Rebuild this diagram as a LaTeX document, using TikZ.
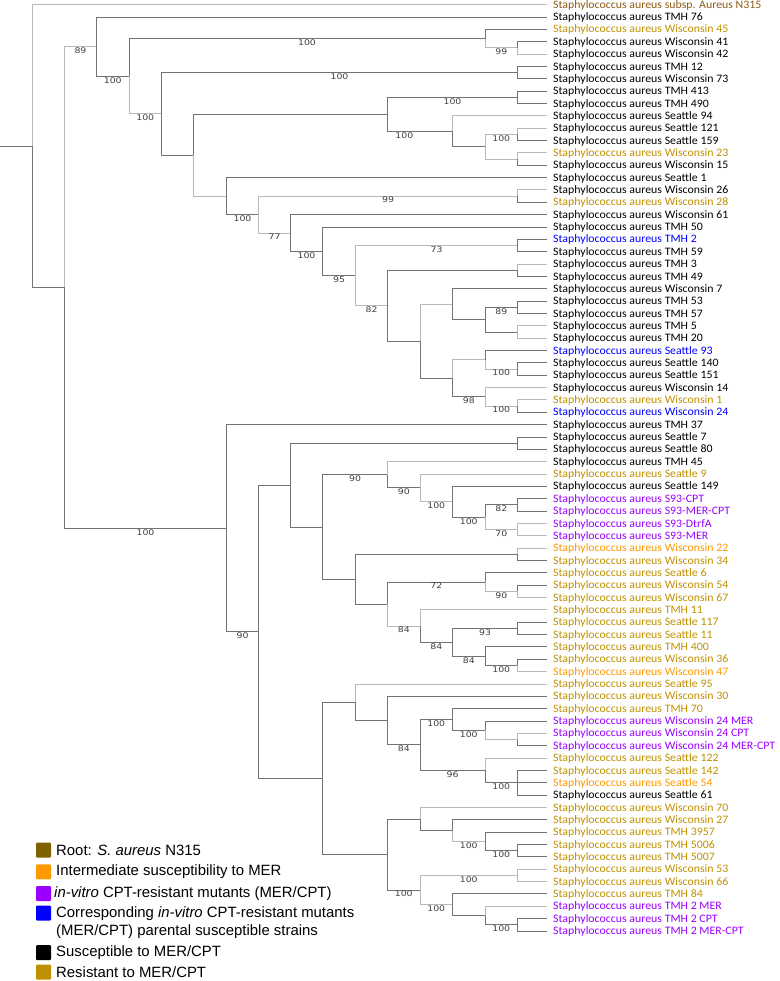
\documentclass[tikz,border=0pt]{standalone}
\usepackage{fontspec}
\usepackage{tikz}
\usetikzlibrary{positioning}
\newfontfamily\leaffont{Carlito}
\newfontfamily\legfont{Liberation Sans}
\newfontfamily\bsfont{DejaVu Sans}
\definecolor{rootbrown}{RGB}{128,96,0}
\definecolor{roottext}{RGB}{140,90,20}
\definecolor{midorange}{RGB}{255,153,0}
\definecolor{mutpurple}{RGB}{153,0,255}
\definecolor{parblue}{RGB}{0,0,255}
\definecolor{resgold}{RGB}{191,144,0}
\newcommand{\sa}[1]{\scalebox{1.04}[1]{Staphylococcus aureus #1}}
\newcommand{\bsv}[1]{\scalebox{1.2}[1]{#1}}

\begin{document}
\begin{tikzpicture}[x=1pt,y=-1pt,
    branch/.style={draw=black!55, line width=0.9pt},
    lbranch/.style={draw=black!28, line width=0.9pt},
    leaf/.style={anchor=west, inner xsep=6pt, inner ysep=0pt, text height=9.5pt, text depth=2.3pt, font=\leaffont\fontsize{11.4}{12}\selectfont},
    boot/.style={font=\bsfont\fontsize{7.8}{8}\selectfont, text=black!75, inner sep=0pt, below=0.6pt},
    legsq/.style={minimum size=15pt, inner sep=0pt, outer sep=0pt, rounded corners=1pt},
    legtxt/.style={font=\legfont\fontsize{14.9}{17.7}\selectfont, inner sep=0pt, align=left}]
    \useasboundingbox (0,0) rectangle (779,981);

    % leaves
    \node[leaf, text=roottext] (n315) at (547,4.7) {\sa{subsp. Aureus N315}};
    \node[leaf] (tmh76) at (547,17.05) {\sa{TMH 76}};
    \node[leaf, text=resgold] (wis45) at (547,29.4) {\sa{Wisconsin 45}};
    \node[leaf] (wis41) at (547,41.75) {\sa{Wisconsin 41}};
    \node[leaf] (wis42) at (547,54.1) {\sa{Wisconsin 42}};
    \node[leaf] (tmh12) at (547,66.45) {\sa{TMH 12}};
    \node[leaf] (wis73) at (547,78.8) {\sa{Wisconsin 73}};
    \node[leaf] (tmh413) at (547,91.15) {\sa{TMH 413}};
    \node[leaf] (tmh490) at (547,103.5) {\sa{TMH 490}};
    \node[leaf] (sea94) at (547,115.85) {\sa{Seattle 94}};
    \node[leaf] (sea121) at (547,128.2) {\sa{Seattle 121}};
    \node[leaf] (sea159) at (547,140.55) {\sa{Seattle 159}};
    \node[leaf, text=resgold] (wis23) at (547,152.9) {\sa{Wisconsin 23}};
    \node[leaf] (wis15) at (547,165.25) {\sa{Wisconsin 15}};
    \node[leaf] (sea1) at (547,177.6) {\sa{Seattle 1}};
    \node[leaf] (wis26) at (547,189.95) {\sa{Wisconsin 26}};
    \node[leaf, text=resgold] (wis28) at (547,202.3) {\sa{Wisconsin 28}};
    \node[leaf] (wis61) at (547,214.65) {\sa{Wisconsin 61}};
    \node[leaf] (tmh50) at (547,227) {\sa{TMH 50}};
    \node[leaf, text=parblue] (tmh2) at (547,239.35) {\sa{TMH 2}};
    \node[leaf] (tmh59) at (547,251.7) {\sa{TMH 59}};
    \node[leaf] (tmh3) at (547,264.05) {\sa{TMH 3}};
    \node[leaf] (tmh49) at (547,276.4) {\sa{TMH 49}};
    \node[leaf] (wis7) at (547,288.75) {\sa{Wisconsin 7}};
    \node[leaf] (tmh53) at (547,301.1) {\sa{TMH 53}};
    \node[leaf] (tmh57) at (547,313.45) {\sa{TMH 57}};
    \node[leaf] (tmh5) at (547,325.8) {\sa{TMH 5}};
    \node[leaf] (tmh20) at (547,338.15) {\sa{TMH 20}};
    \node[leaf, text=parblue] (sea93) at (547,350.5) {\sa{Seattle 93}};
    \node[leaf] (sea140) at (547,362.85) {\sa{Seattle 140}};
    \node[leaf] (sea151) at (547,375.2) {\sa{Seattle 151}};
    \node[leaf] (wis14) at (547,387.55) {\sa{Wisconsin 14}};
    \node[leaf, text=resgold] (wis1) at (547,399.9) {\sa{Wisconsin 1}};
    \node[leaf, text=parblue] (wis24) at (547,412.25) {\sa{Wisconsin 24}};
    \node[leaf] (tmh37) at (547,424.6) {\sa{TMH 37}};
    \node[leaf] (sea7) at (547,436.95) {\sa{Seattle 7}};
    \node[leaf] (sea80) at (547,449.3) {\sa{Seattle 80}};
    \node[leaf] (tmh45) at (547,461.65) {\sa{TMH 45}};
    \node[leaf, text=resgold] (sea9) at (547,474) {\sa{Seattle 9}};
    \node[leaf] (sea149) at (547,486.35) {\sa{Seattle 149}};
    \node[leaf, text=mutpurple] (s93cpt) at (547,498.7) {\sa{S93-CPT}};
    \node[leaf, text=mutpurple] (s93mercpt) at (547,511.05) {\sa{S93-MER-CPT}};
    \node[leaf, text=mutpurple] (s93dtrfa) at (547,523.4) {\sa{S93-DtrfA}};
    \node[leaf, text=mutpurple] (s93mer) at (547,535.75) {\sa{S93-MER}};
    \node[leaf, text=midorange] (wis22) at (547,548.1) {\sa{Wisconsin 22}};
    \node[leaf, text=resgold] (wis34) at (547,560.45) {\sa{Wisconsin 34}};
    \node[leaf, text=resgold] (sea6) at (547,572.8) {\sa{Seattle 6}};
    \node[leaf, text=resgold] (wis54) at (547,585.15) {\sa{Wisconsin 54}};
    \node[leaf, text=resgold] (wis67) at (547,597.5) {\sa{Wisconsin 67}};
    \node[leaf, text=resgold] (tmh11) at (547,609.85) {\sa{TMH 11}};
    \node[leaf, text=resgold] (sea117) at (547,622.2) {\sa{Seattle 117}};
    \node[leaf, text=resgold] (sea11) at (547,634.55) {\sa{Seattle 11}};
    \node[leaf, text=resgold] (tmh400) at (547,646.9) {\sa{TMH 400}};
    \node[leaf, text=resgold] (wis36) at (547,659.25) {\sa{Wisconsin 36}};
    \node[leaf, text=midorange] (wis47) at (547,671.6) {\sa{Wisconsin 47}};
    \node[leaf, text=resgold] (sea95) at (547,683.95) {\sa{Seattle 95}};
    \node[leaf, text=resgold] (wis30) at (547,696.3) {\sa{Wisconsin 30}};
    \node[leaf, text=resgold] (tmh70) at (547,708.65) {\sa{TMH 70}};
    \node[leaf, text=mutpurple] (wis24mer) at (547,721) {\sa{Wisconsin 24 MER}};
    \node[leaf, text=mutpurple] (wis24cpt) at (547,733.35) {\sa{Wisconsin 24 CPT}};
    \node[leaf, text=mutpurple] (wis24mercpt) at (547,745.7) {\sa{Wisconsin 24 MER-CPT}};
    \node[leaf, text=resgold] (sea122) at (547,758.05) {\sa{Seattle 122}};
    \node[leaf, text=resgold] (sea142) at (547,770.4) {\sa{Seattle 142}};
    \node[leaf, text=midorange] (sea54) at (547,782.75) {\sa{Seattle 54}};
    \node[leaf] (sea61) at (547,795.1) {\sa{Seattle 61}};
    \node[leaf, text=resgold] (wis70) at (547,807.45) {\sa{Wisconsin 70}};
    \node[leaf, text=resgold] (wis27) at (547,819.8) {\sa{Wisconsin 27}};
    \node[leaf, text=resgold] (tmh3957) at (547,832.15) {\sa{TMH 3957}};
    \node[leaf, text=resgold] (tmh5006) at (547,844.5) {\sa{TMH 5006}};
    \node[leaf, text=resgold] (tmh5007) at (547,856.85) {\sa{TMH 5007}};
    \node[leaf, text=resgold] (wis53) at (547,869.2) {\sa{Wisconsin 53}};
    \node[leaf, text=resgold] (wis66) at (547,881.55) {\sa{Wisconsin 66}};
    \node[leaf, text=resgold] (tmh84) at (547,893.9) {\sa{TMH 84}};
    \node[leaf, text=mutpurple] (tmh2mer) at (547,906.25) {\sa{TMH 2 MER}};
    \node[leaf, text=mutpurple] (tmh2cpt) at (547,918.6) {\sa{TMH 2 CPT}};
    \node[leaf, text=mutpurple] (tmh2mercpt) at (547,930.95) {\sa{TMH 2 MER-CPT}};

    % inner nodes, upper clade
    \coordinate (stub) at (0,146.06);
    \coordinate (R0) at (32,146.06);
    \coordinate (A) at (64.5,287.42);
    \coordinate (B) at (96.5,46.67);
    \coordinate (D) at (129,76.28);
    \coordinate (F) at (485,38.66);
    \coordinate (G) at (517.5,47.93);
    \coordinate (E) at (161.5,113.91);
    \coordinate (H) at (517.5,72.63);
    \coordinate (I) at (193.5,155.19);
    \coordinate (J) at (387.5,114.31);
    \coordinate (L) at (517.5,97.33);
    \coordinate (M) at (452.5,131.29);
    \coordinate (N) at (485,146.73);
    \coordinate (O) at (517.5,134.38);
    \coordinate (P) at (517.5,159.08);
    \coordinate (K) at (226.5,196.08);
    \coordinate (Q) at (258.5,214.56);
    \coordinate (R) at (517.5,196.13);
    \coordinate (S) at (290.5,232.98);
    \coordinate (T) at (322.5,251.32);
    \coordinate (U) at (355.5,275.63);
    \coordinate (V) at (517.5,245.53);
    \coordinate (W) at (387.5,305.73);
    \coordinate (X) at (517.5,270.23);
    \coordinate (Y) at (420,341.24);
    \coordinate (Z) at (452.5,304.19);
    \coordinate (AB) at (485,319.63);
    \coordinate (AC) at (517.5,307.28);
    \coordinate (AD) at (517.5,331.98);
    \coordinate (AA) at (452.5,378.29);
    \coordinate (AE) at (485,359.76);
    \coordinate (AG) at (517.5,369.03);
    \coordinate (AF) at (485,396.81);
    \coordinate (AH) at (517.5,406.08);
    % inner nodes, lower clade
    \coordinate (C) at (226.5,528.17);
    \coordinate (AI) at (258.5,631.73);
    \coordinate (AJ) at (290.5,485.05);
    \coordinate (AL) at (517.5,443.13);
    \coordinate (AM) at (322.5,526.97);
    \coordinate (AN) at (387.5,474.78);
    \coordinate (AP) at (420,487.9);
    \coordinate (AQ) at (452.5,501.79);
    \coordinate (AR) at (485,517.23);
    \coordinate (AS) at (517.5,504.88);
    \coordinate (AT) at (517.5,529.58);
    \coordinate (AO) at (355.5,579.17);
    \coordinate (AU) at (517.5,554.28);
    \coordinate (AV) at (387.5,604.06);
    \coordinate (AW) at (485,582.06);
    \coordinate (BC) at (517.5,591.33);
    \coordinate (AX) at (420,626.06);
    \coordinate (AY) at (452.5,642.27);
    \coordinate (AZ) at (517.5,628.38);
    \coordinate (BA) at (485,656.16);
    \coordinate (BB) at (517.5,665.43);
    \coordinate (AK) at (322.5,778.41);
    \coordinate (BD) at (355.5,702.28);
    \coordinate (BF) at (387.5,720.61);
    \coordinate (BG) at (420,744.93);
    \coordinate (BH) at (452.5,719.46);
    \coordinate (BJ) at (485,730.26);
    \coordinate (BK) at (517.5,739.53);
    \coordinate (BI) at (485,770.4);
    \coordinate (BL) at (517.5,782.75);
    \coordinate (BE) at (387.5,854.54);
    \coordinate (BM) at (420,819.03);
    \coordinate (BP) at (452.5,830.61);
    \coordinate (BQ) at (485,841.41);
    \coordinate (BO) at (517.5,850.68);
    \coordinate (BN) at (420,890.04);
    \coordinate (BR) at (517.5,875.38);
    \coordinate (BS) at (452.5,904.71);
    \coordinate (BT) at (485,915.51);
    \coordinate (BU) at (517.5,924.78);

    % branches, upper clade
    \draw[branch] (stub) -- (R0);
    \draw[lbranch] (R0) |- (n315);
    \draw[branch] (R0) |- (A);
    \draw[lbranch] (A) |- (B) node[boot, pos=.75] {\bsv{89}};
    \draw[branch] (A) |- (C) node[boot, pos=.75] {\bsv{100}};
    \draw[branch] (B) |- (tmh76);
    \draw[branch] (B) |- (D) node[boot, pos=.75] {\bsv{100}};
    \draw[branch] (D) |- (F) node[boot, pos=.75] {\bsv{100}};
    \draw[lbranch] (D) |- (E) node[boot, pos=.75] {\bsv{100}};
    \draw[branch] (F) |- (wis45);
    \draw[lbranch] (F) |- (G) node[boot, pos=.75] {\bsv{99}};
    \draw[branch] (G) |- (wis41);
    \draw[lbranch] (G) |- (wis42);
    \draw[branch] (E) |- (H) node[boot, pos=.75] {\bsv{100}};
    \draw[branch] (E) |- (I);
    \draw[branch] (H) |- (tmh12) (H) |- (wis73);
    \draw[branch] (I) |- (J);
    \draw[lbranch] (I) |- (K);
    \draw[branch] (J) |- (L) node[boot, pos=.75] {\bsv{100}};
    \draw[branch] (J) |- (M) node[boot, pos=.63] {\bsv{100}};
    \draw[branch] (L) |- (tmh413) (L) |- (tmh490);
    \draw[lbranch] (M) |- (sea94);
    \draw[branch] (M) |- (N);
    \draw[lbranch] (N) |- (O) node[boot, pos=.75] {\bsv{100}};
    \draw[lbranch] (N) |- (P);
    \draw[lbranch] (O) |- (sea121);
    \draw[branch] (O) |- (sea159);
    \draw[lbranch] (P) |- (wis23);
    \draw[branch] (P) |- (wis15);
    \draw[branch] (K) |- (sea1);
    \draw[branch] (K) |- (Q) node[boot, pos=.75] {\bsv{100}};
    \draw[lbranch] (Q) |- (R) node[boot, pos=.75] {\bsv{99}};
    \draw[lbranch] (Q) |- (S) node[boot, pos=.75] {\bsv{77}};
    \draw[lbranch] (R) |- (wis26);
    \draw[branch] (R) |- (wis28);
    \draw[branch] (S) |- (wis61);
    \draw[branch] (S) |- (T) node[boot, pos=.75] {\bsv{100}};
    \draw[branch] (T) |- (tmh50);
    \draw[branch] (T) |- (U) node[boot, pos=.75] {\bsv{95}};
    \draw[lbranch] (U) |- (V) node[boot, pos=.75] {\bsv{73}};
    \draw[lbranch] (U) |- (W) node[boot, pos=.75] {\bsv{82}};
    \draw[branch] (V) |- (tmh2) (V) |- (tmh59);
    \draw[branch] (W) |- (X);
    \draw[branch] (W) |- (Y);
    \draw[lbranch] (X) |- (tmh3);
    \draw[branch] (X) |- (tmh49);
    \draw[lbranch] (Y) |- (Z);
    \draw[branch] (Y) |- (AA);
    \draw[branch] (Z) |- (wis7);
    \draw[branch] (Z) |- (AB);
    \draw[branch] (AB) |- (AC) node[boot, pos=.75] {\bsv{89}};
    \draw[branch] (AB) |- (AD);
    \draw[branch] (AC) |- (tmh53) (AC) |- (tmh57);
    \draw[lbranch] (AD) |- (tmh5) (AD) |- (tmh20);
    \draw[lbranch] (AA) |- (AE);
    \draw[branch] (AA) |- (AF) node[boot, pos=.75] {\bsv{98}};
    \draw[branch] (AE) |- (sea93);
    \draw[lbranch] (AE) |- (AG) node[boot, pos=.75] {\bsv{100}};
    \draw[branch] (AG) |- (sea140) (AG) |- (sea151);
    \draw[lbranch] (AF) |- (wis14);
    \draw[lbranch] (AF) |- (AH) node[boot, pos=.75] {\bsv{100}};
    \draw[lbranch] (AH) |- (wis1);
    \draw[branch] (AH) |- (wis24);

    % branches, lower clade
    \draw[branch] (C) |- (tmh37);
    \draw[branch] (C) |- (AI) node[boot, pos=.75] {\bsv{90}};
    \draw[branch] (AI) |- (AJ);
    \draw[branch] (AI) |- (AK);
    \draw[branch] (AJ) |- (AL);
    \draw[branch] (AJ) |- (AM);
    \draw[branch] (AL) |- (sea7) (AL) |- (sea80);
    \draw[branch] (AM) |- (AN) node[boot, pos=.75] {\bsv{90}};
    \draw[branch] (AM) |- (AO);
    \draw[lbranch] (AN) |- (tmh45);
    \draw[branch] (AN) |- (AP) node[boot, pos=.75] {\bsv{90}};
    \draw[lbranch] (AP) |- (sea9);
    \draw[lbranch] (AP) |- (AQ) node[boot, pos=.75] {\bsv{100}};
    \draw[branch] (AQ) |- (sea149);
    \draw[branch] (AQ) |- (AR) node[boot, pos=.75] {\bsv{100}};
    \draw[branch] (AR) |- (AS) node[boot, pos=.75] {\bsv{82}};
    \draw[lbranch] (AR) |- (AT) node[boot, pos=.75] {\bsv{70}};
    \draw[branch] (AS) |- (s93cpt) (AS) |- (s93mercpt);
    \draw[lbranch] (AT) |- (s93dtrfa) (AT) |- (s93mer);
    \draw[branch] (AO) |- (AU);
    \draw[branch] (AO) |- (AV);
    \draw[lbranch] (AU) |- (wis22);
    \draw[branch] (AU) |- (wis34);
    \draw[branch] (AV) |- (AW) node[boot, pos=.75] {\bsv{72}};
    \draw[lbranch] (AV) |- (AX) node[boot, pos=.75] {\bsv{84}};
    \draw[branch] (AW) |- (sea6);
    \draw[lbranch] (AW) |- (BC) node[boot, pos=.75] {\bsv{90}};
    \draw[branch] (BC) |- (wis54);
    \draw[lbranch] (BC) |- (wis67);
    \draw[lbranch] (AX) |- (tmh11);
    \draw[branch] (AX) |- (AY) node[boot, pos=.75] {\bsv{84}};
    \draw[branch] (AY) |- (AZ) node[boot, pos=.75] {\bsv{93}};
    \draw[branch] (AY) |- (BA) node[boot, pos=.75] {\bsv{84}};
    \draw[branch] (AZ) |- (sea117) (AZ) |- (sea11);
    \draw[branch] (BA) |- (tmh400);
    \draw[branch] (BA) |- (BB) node[boot, pos=.75] {\bsv{100}};
    \draw[branch] (BB) |- (wis36);
    \draw[lbranch] (BB) |- (wis47);
    \draw[branch] (AK) |- (BD);
    \draw[branch] (AK) |- (BE);
    \draw[lbranch] (BD) |- (sea95);
    \draw[branch] (BD) |- (BF);
    \draw[branch] (BF) |- (wis30);
    \draw[branch] (BF) |- (BG) node[boot, pos=.75] {\bsv{84}};
    \draw[branch] (BG) |- (BH) node[boot, pos=.75] {\bsv{100}};
    \draw[branch] (BG) |- (BI) node[boot, pos=.75] {\bsv{96}};
    \draw[branch] (BH) |- (tmh70);
    \draw[branch] (BH) |- (BJ) node[boot, pos=.75] {\bsv{100}};
    \draw[branch] (BJ) |- (wis24mer);
    \draw[lbranch] (BJ) |- (BK);
    \draw[lbranch] (BK) |- (wis24cpt);
    \draw[branch] (BK) |- (wis24mercpt);
    \draw[lbranch] (BI) |- (sea122);
    \draw[branch] (BI) |- (BL) node[boot, pos=.75] {\bsv{100}};
    \draw[branch] (BL) |- (sea142) (BL) |- (sea54) (BL) |- (sea61);
    \draw[branch] (BE) |- (BM);
    \draw[branch] (BE) |- (BN) node[boot, pos=.75] {\bsv{100}};
    \draw[lbranch] (BM) |- (wis70);
    \draw[branch] (BM) |- (BP);
    \draw[branch] (BP) |- (wis27);
    \draw[lbranch] (BP) |- (BQ) node[boot, pos=.75] {\bsv{100}};
    \draw[branch] (BQ) |- (tmh3957);
    \draw[branch] (BQ) |- (BO) node[boot, pos=.75] {\bsv{100}};
    \draw[branch] (BO) |- (tmh5006) (BO) |- (tmh5007);
    \draw[lbranch] (BN) |- (BR) node[boot, pos=.75] {\bsv{100}};
    \draw[lbranch] (BN) |- (BS) node[boot, pos=.75] {\bsv{100}};
    \draw[lbranch] (BR) |- (wis53) (BR) |- (wis66);
    \draw[branch] (BS) |- (tmh84);
    \draw[branch] (BS) |- (BT);
    \draw[lbranch] (BT) |- (tmh2mer);
    \draw[branch] (BT) |- (BU) node[boot, pos=.75] {\bsv{100}};
    \draw[branch] (BU) |- (tmh2cpt) (BU) |- (tmh2mercpt);

    % legend
    \node[legsq, fill=rootbrown] (lg1) at (43.5,850) {};
    \node[legsq, fill=midorange] (lg2) at (43.5,871.8) {};
    \node[legsq, fill=mutpurple] (lg3) at (43.5,893.5) {};
    \node[legsq, fill=parblue] (lg4) at (43.5,913) {};
    \node[legsq, fill=black] (lg5) at (43.5,952.5) {};
    \node[legsq, fill=resgold] (lg6) at (43.5,972.2) {};
    \node[legtxt, right=5pt of lg1] (lt1) {Root: \textit{S. aureus} N315};
    \node[legtxt, right=5pt of lg2] (lt2) {Intermediate susceptibility to MER};
    \node[legtxt, right=3pt of lg3] (lt3) {\textit{in-vitro} CPT-resistant mutants (MER/CPT)};
    \node[legtxt, anchor=north west] (lt4) at ([xshift=5pt,yshift=-1pt]lg4.north east) {Corresponding \textit{in-vitro} CPT-resistant mutants\\(MER/CPT) parental susceptible strains};
    \node[legtxt, right=5pt of lg5] (lt5) {Susceptible to MER/CPT};
    \node[legtxt, right=5pt of lg6] (lt6) {Resistant to MER/CPT};
\end{tikzpicture}
\end{document}
